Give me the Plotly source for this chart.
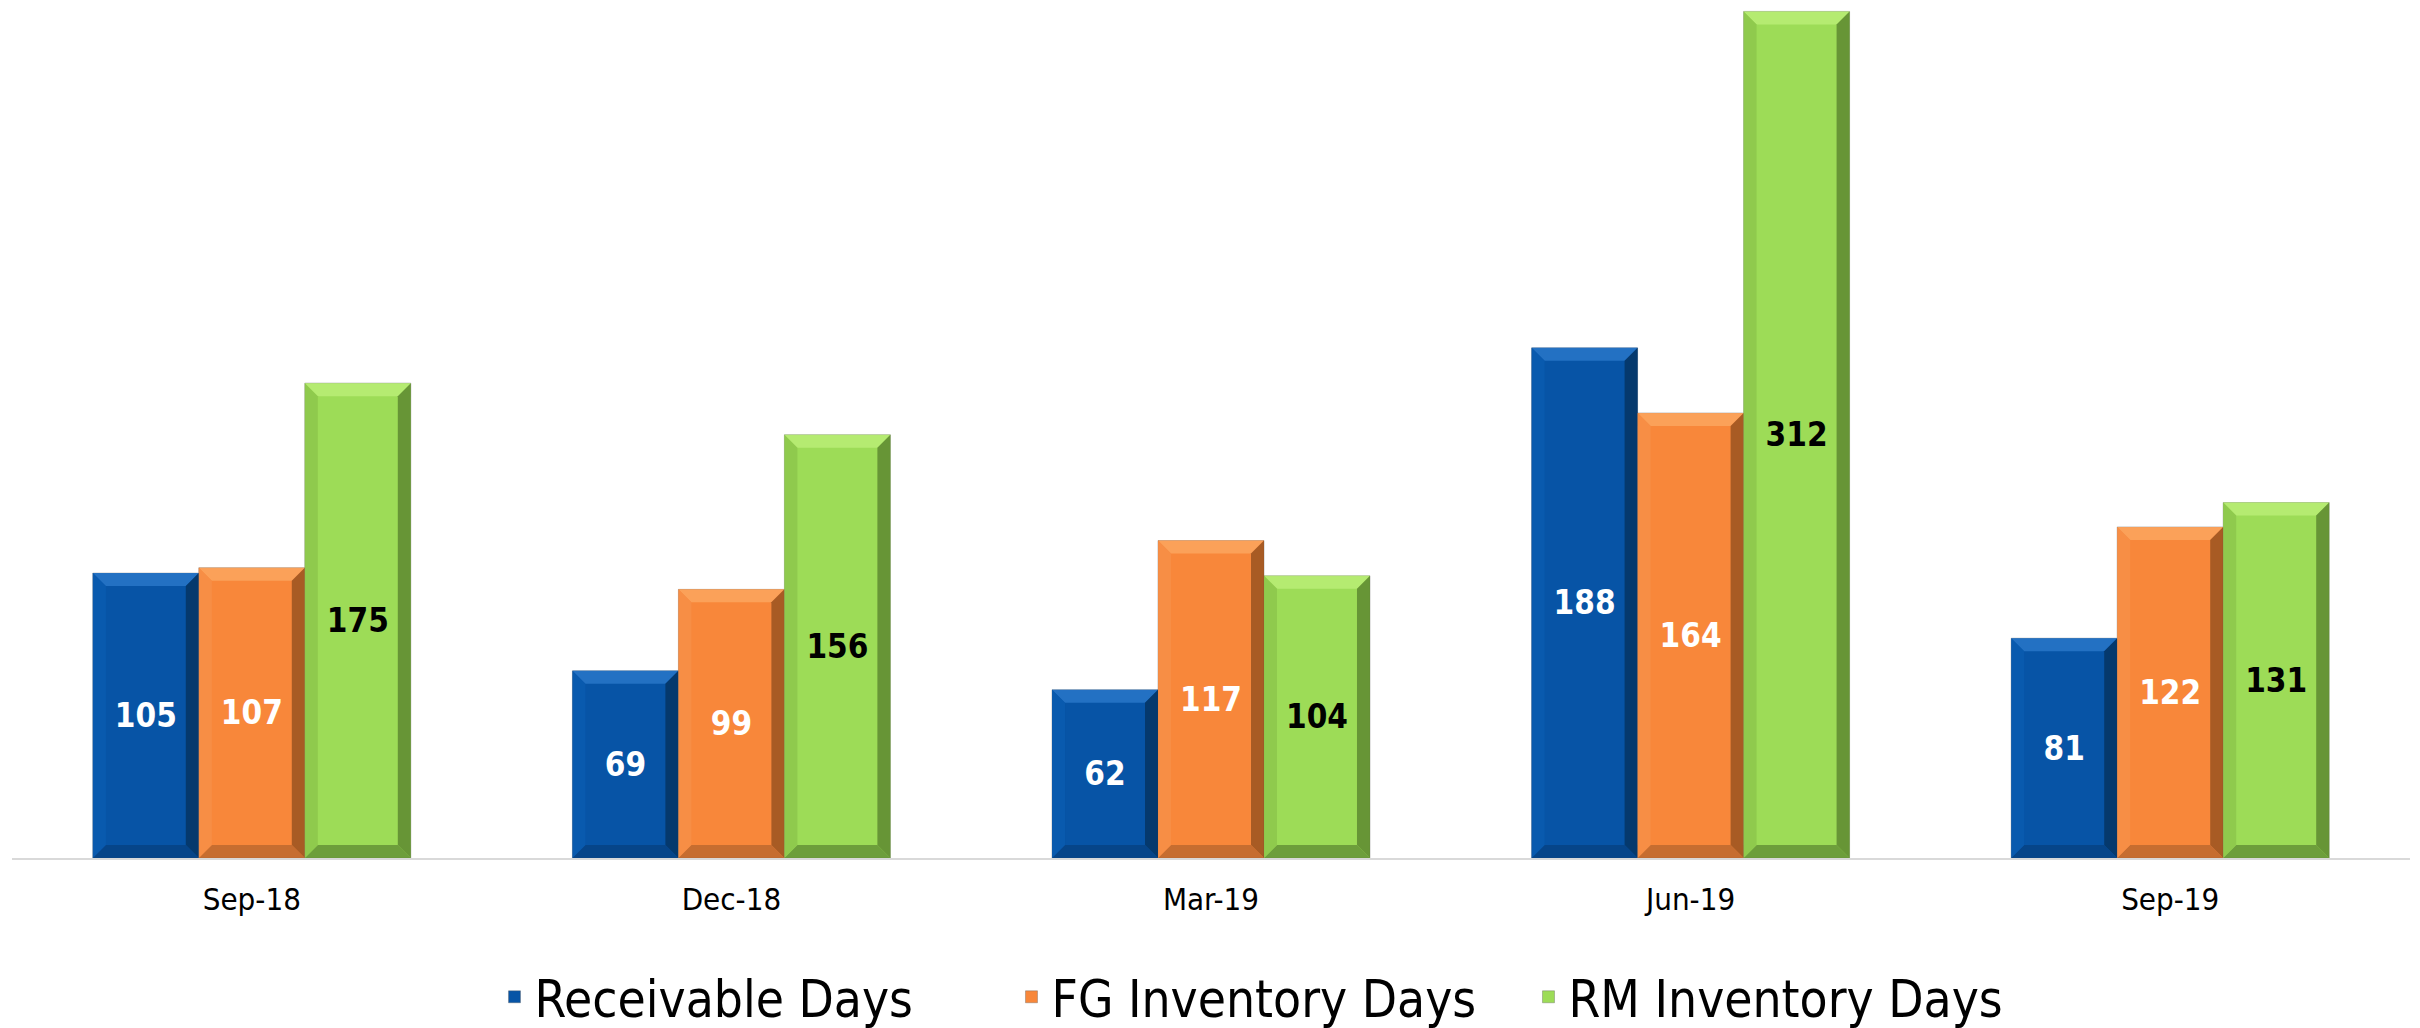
import plotly.graph_objects as go

# Working-capital days by quarter
quarters = ["Sep-18", "Dec-18", "Mar-19", "Jun-19", "Sep-19"]
receivable_days = [105, 69, 62, 188, 81]
fg_inventory_days = [107, 99, 117, 164, 122]
rm_inventory_days = [175, 156, 104, 312, 131]

series = [
    ("Receivable Days", receivable_days, "#0754A6", "white",
     {"top": "#2A78CA", "right": "#05325F", "bottom": "#064182", "left": "#0A5BB0"}),
    ("FG Inventory Days", fg_inventory_days, "#F8873A", "white",
     {"top": "#FBA862", "right": "#93501F", "bottom": "#B9672E", "left": "#F69048"}),
    ("RM Inventory Days", rm_inventory_days, "#9DDC57", "black",
     {"top": "#BCEF78", "right": "#5A832E", "bottom": "#628F34", "left": "#8CC64B"}),
]

FONT = "Tahoma, 'DejaVu Sans Condensed', 'DejaVu Sans', sans-serif"
BAR_W = 0.221          # bar width in category units
Y_MAX = 316.2
PLOT_W_PX = 2398       # plot-area width
PLOT_H_PX = 858        # plot-area height
BEVEL_PX = 13
bx = BEVEL_PX * len(quarters) / PLOT_W_PX
by = BEVEL_PX * Y_MAX / PLOT_H_PX

fig = go.Figure()
shapes = []
for i, (name, vals, color, txt_color, bevel) in enumerate(series):
    offset = -1.5 * BAR_W + i * BAR_W
    fig.add_trace(go.Bar(
        name=name,
        x=quarters,
        y=vals,
        width=BAR_W,
        offset=offset,
        marker=dict(color=color, line=dict(color="rgba(90,90,90,0.35)", width=1)),
        text=vals,
        textposition="inside",
        insidetextanchor="middle",
        textangle=0,
        textfont=dict(family=FONT, size=33, color=txt_color, weight="bold"),
        hoverinfo="skip",
    ))
    # bevelled edges for each bar
    for k, v in enumerate(vals):
        xl = k + offset
        xr = xl + BAR_W
        yt = v
        faces = {
            "top": f"M {xl},{yt} L {xr},{yt} L {xr - bx},{yt - by} L {xl + bx},{yt - by} Z",
            "right": f"M {xr},{yt} L {xr},0 L {xr - bx},{by} L {xr - bx},{yt - by} Z",
            "bottom": f"M {xl},0 L {xr},0 L {xr - bx},{by} L {xl + bx},{by} Z",
            "left": f"M {xl},{yt} L {xl + bx},{yt - by} L {xl + bx},{by} L {xl},0 Z",
        }
        for face, path in faces.items():
            shapes.append(dict(
                type="path", xref="x", yref="y", path=path,
                fillcolor=bevel[face], line=dict(width=0), layer="above",
                opacity=0.8,
            ))

fig.update_layout(
    width=2420,
    height=1028,
    margin=dict(l=12, r=10, t=0, b=170, autoexpand=False),
    paper_bgcolor="white",
    plot_bgcolor="white",
    barmode="group",
    bargap=0.337,
    bargroupgap=0,
    shapes=shapes,
    showlegend=True,
    legend=dict(
        orientation="h",
        x=0.5246, xanchor="center",
        yref="container", y=0.030, yanchor="middle",
        font=dict(family=FONT, size=51, color="black"),
        itemwidth=30,
        entrywidth=472,
        entrywidthmode="pixels",
        tracegroupgap=0,
    ),
    xaxis=dict(
        type="category",
        range=[-0.5, len(quarters) - 0.5],
        showgrid=False,
        showline=True,
        linecolor="#D9D9D9",
        linewidth=2,
        ticks="",
        tickfont=dict(family=FONT, size=31, color="black"),
        ticklabelstandoff=13,
        fixedrange=True,
    ),
    yaxis=dict(
        range=[0, Y_MAX],
        visible=False,
        showgrid=False,
        zeroline=False,
        fixedrange=True,
    ),
)

fig.write_html("out.html", config={"displayModeBar": False})
